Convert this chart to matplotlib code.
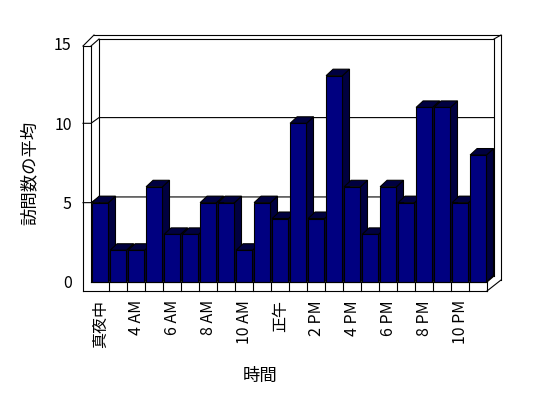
import matplotlib
matplotlib.use("Agg")
import matplotlib.pyplot as plt
from matplotlib.patches import Polygon

plt.rcParams['font.family'] = ['Noto Sans CJK JP', 'DejaVu Sans']

# ---- data ----
hour_labels = ['真夜中', '3 AM', '4 AM', '5 AM', '6 AM', '7 AM', '8 AM', '9 AM', '10 AM', '11 AM',
               '正午', '1 PM', '2 PM', '3 PM', '4 PM', '5 PM', '6 PM', '7 PM', '8 PM', '9 PM',
               '10 PM', '11 PM']
visits = [5, 2, 2, 6, 3, 3, 5, 5, 2, 5, 4, 10, 4, 13, 6, 3, 6, 5, 11, 11, 5, 8]
shown_labels = ['真夜中', '4 AM', '6 AM', '8 AM', '10 AM', '正午', '2 PM', '4 PM', '6 PM', '8 PM', '10 PM']
y_ticks = [0, 5, 10, 15]
x_title = '時間'
y_title = '訪問数の平均'

W, H = 548, 398
fig = plt.figure(figsize=(W / 100, H / 100), dpi=100)
fig.patch.set_facecolor('white')

n = len(visits)
# plot region (front plane of bars) in image pixels
x_left, x_right = 91.3, 487.3
y_zero, px_per_unit = 282.0, 15.87
ymax = 15
ax = fig.add_axes([x_left / W, (H - y_zero) / H, (x_right - x_left) / W,
                   ymax * px_per_unit / H])
ax.set_xlim(0, n)
ax.set_ylim(0, ymax)
for s in ax.spines.values():
    s.set_visible(False)
ax.set_facecolor('none')

LW = 0.8

def P(x, y):
    return x / W, 1 - y / H

def line(pts, z=1, lw=LW):
    xs = [P(*p)[0] for p in pts]
    ys = [P(*p)[1] for p in pts]
    ax.plot(xs, ys, transform=fig.transFigure, color='black', lw=lw,
            clip_on=False, zorder=z, solid_capstyle='projecting')

def ypix(v):
    return y_zero - v * px_per_unit

# ---- frame: walls and floor ----
back_dy = 5.7
# back wall & side gridlines
for v in y_ticks[1:-1]:
    yf = ypix(v)
    line([(83, yf), (91, yf), (99, yf - back_dy), (494, yf - back_dy)], z=0.5)
# left wall
line([(83, 46), (83, 291)], z=5)
line([(91, 46), (91, 282)], z=5)
line([(83, 46), (91, 46)], z=5)
line([(83, 46), (94, 35)], z=5)
line([(91, 46), (99, 39)], z=5)
line([(99, 39), (99, 276)], z=0.5)
# top
line([(94, 35), (501, 35)], z=5)
line([(99, 39), (494, 39)], z=5)
line([(494, 39), (501, 35)], z=5)
# right
line([(501, 35), (501, 280)], z=5)
line([(494, 39), (494, 276)], z=0.5)
line([(487, 291), (501, 280)], z=5)
line([(487, 282), (494, 276)], z=5)
# floor front face
line([(91, 282), (487, 282)], z=5)
line([(83, 291), (487, 291)], z=5)
line([(487, 282), (487, 291)], z=5)
cat_w = (x_right - x_left) / n
for k in range(1, n):
    xb = x_left + k * cat_w
    line([(xb, 282), (xb, 291)], z=5)

# ---- 3D bars ----
front = '#000080'
shade = '#000040'
bw = 0.91
dx = 7.0 / cat_w
dy = 6.5 / px_per_unit
for i, v in enumerate(visits):
    x0 = i + 0.5 - bw / 2
    x1 = i + 0.5 + bw / 2
    z = 1 + i * 0.01
    side = Polygon([(x1, 0), (x1, v), (x1 + dx, v + dy), (x1 + dx, dy)],
                   closed=True, facecolor=shade, edgecolor='black', lw=LW,
                   zorder=z, clip_on=False)
    top = Polygon([(x0, v), (x1, v), (x1 + dx, v + dy), (x0 + dx, v + dy)],
                  closed=True, facecolor=shade, edgecolor='black', lw=LW,
                  zorder=z, clip_on=False)
    ax.add_patch(side)
    ax.add_patch(top)
    ax.bar(i + 0.5, v, width=bw, color=front, edgecolor='black', lw=LW,
           zorder=z + 0.005, clip_on=False)

# ---- ticks & labels ----
ax.set_yticks(y_ticks)
ax.set_yticklabels([str(t) for t in y_ticks], fontsize=11.5)
ax.tick_params(axis='y', length=0, pad=14)
pos = [hour_labels.index(l) + 0.5 for l in shown_labels]
ax.set_xticks(pos)
ax.set_xticklabels(shown_labels, rotation=90, fontsize=11.5, va='top', ha='center')
ax.tick_params(axis='x', length=0, pad=13)

fig.text(260 / W, 1 - 376 / H, x_title, fontsize=12.5, ha='center', va='center')
fig.text(30 / W, 1 - 173 / H, y_title, fontsize=12.5, ha='center', va='center',
         rotation=90)

fig.savefig('out.png', dpi=100, facecolor='white')
